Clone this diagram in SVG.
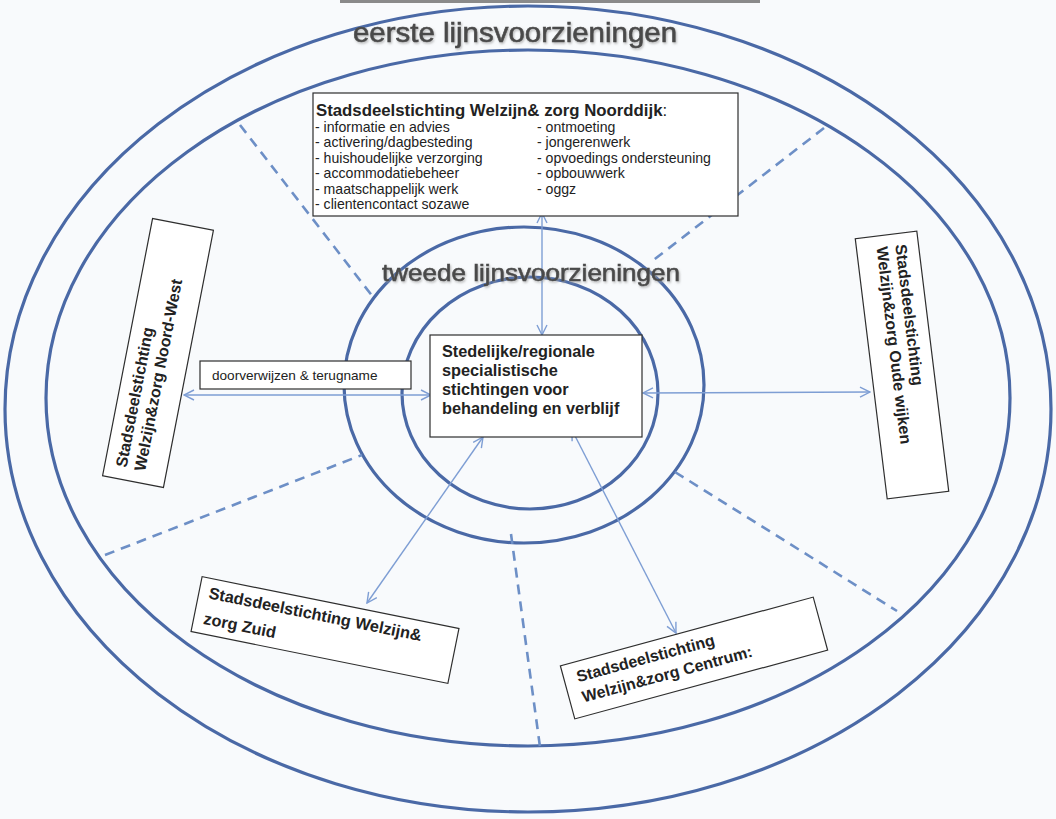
<svg xmlns="http://www.w3.org/2000/svg" width="1056" height="819" viewBox="0 0 1056 819">
  <style>
    .ring { fill: none; stroke: #4a69a6; stroke-width: 3.2; }
    .divider { fill: none; stroke: #6d8fc6; stroke-width: 2.6; stroke-dasharray: 10 7; }
    .conn { fill: none; stroke: #7e9ed4; stroke-width: 1.4; marker-start: url(#arr); marker-end: url(#arr); }
    .box { fill: #ffffff; stroke: #2e2e2e; stroke-width: 1.2; }
    .bold { font-family: "Liberation Sans", Arial, sans-serif; font-weight: bold; fill: #222222; }
    .reg { font-family: "Liberation Sans", Arial, sans-serif; fill: #222222; }
    .big { font-family: "Liberation Sans", Arial, sans-serif; fill: #4a4a4a; stroke: #4a4a4a; stroke-width: 0.6; filter: url(#glow); }
  </style>
  <defs>
    <marker id="arr" viewBox="0 0 12 12" refX="11" refY="6" markerUnits="userSpaceOnUse" markerWidth="12" markerHeight="12" orient="auto-start-reverse">
      <path d="M1,1 L11,6 L1,11" fill="none" stroke="#7e9ed4" stroke-width="1.4"/>
    </marker>
    <filter id="glow" x="-10%" y="-30%" width="120%" height="160%">
      <feDropShadow dx="1" dy="1.5" stdDeviation="1.2" flood-color="#9a9a9a" flood-opacity="0.7"/>
    </filter>
  </defs>

  <rect x="0" y="0" width="1056" height="819" fill="#f8fafc"/>
  <line x1="340" y1="1.5" x2="760" y2="1.5" stroke="#8a8a8a" stroke-width="3"/>

  <g id="rings">
    <ellipse class="ring" cx="528" cy="409" rx="523" ry="403"/>
    <ellipse class="ring" cx="528" cy="398" rx="482" ry="348"/>
    <ellipse class="ring" cx="524" cy="385" rx="180" ry="158"/>
    <ellipse class="ring" cx="530" cy="393" rx="128" ry="116"/>
  </g>

  <g id="dividers">
    <line class="divider" x1="240" y1="125" x2="373" y2="297"/>
    <line class="divider" x1="824" y1="128" x2="651" y2="262"/>
    <line class="divider" x1="105" y1="555" x2="362" y2="455"/>
    <line class="divider" x1="511" y1="534" x2="540" y2="747"/>
    <line class="divider" x1="675" y1="472" x2="897" y2="611"/>
  </g>

  <g id="connectors">
    <line class="conn" x1="542" y1="213" x2="542" y2="335"/>
    <line class="conn" x1="184" y1="395" x2="431" y2="395"/>
    <line class="conn" x1="643" y1="393" x2="870" y2="392"/>
    <line class="conn" x1="483" y1="437" x2="367" y2="603"/>
    <line class="conn" x1="572" y1="430" x2="676" y2="633"/>
  </g>

  <g id="label-eerste">
    <text class="big" x="353" y="42" font-size="27" textLength="324" lengthAdjust="spacingAndGlyphs">eerste lijnsvoorzieningen</text>
  </g>

  <g id="node-noorddijk">
    <rect class="box" x="313" y="93" width="425" height="123"/>
    <text class="bold" x="316" y="116" font-size="16.8">Stadsdeelstichting Welzijn&amp; zorg Noorddijk<tspan font-weight="normal">:</tspan></text>
    <g class="reg" font-size="14.1">
      <text x="315" y="132">- informatie en advies</text>
      <text x="315" y="147.4">- activering/dagbesteding</text>
      <text x="315" y="162.8">- huishoudelijke verzorging</text>
      <text x="315" y="178.2">- accommodatiebeheer</text>
      <text x="315" y="193.6">- maatschappelijk werk</text>
      <text x="315" y="209">- clientencontact sozawe</text>
      <text x="537" y="132">- ontmoeting</text>
      <text x="537" y="147.4">- jongerenwerk</text>
      <text x="537" y="162.8">- opvoedings ondersteuning</text>
      <text x="537" y="178.2">- opbouwwerk</text>
      <text x="537" y="193.6">- oggz</text>
    </g>
  </g>

  <g id="label-tweede">
    <text class="big" x="382" y="281" font-size="24" textLength="298" lengthAdjust="spacingAndGlyphs">tweede lijnsvoorzieningen</text>
  </g>

  <g id="label-doorverwijzen">
    <rect class="box" x="200" y="361" width="211" height="28"/>
    <text class="reg" x="212" y="380" font-size="13.6">doorverwijzen &amp; terugname</text>
  </g>

  <g id="node-centraal">
    <rect class="box" x="430" y="335" width="212" height="102"/>
    <g class="bold" font-size="16.3">
      <text x="442" y="357">Stedelijke/regionale</text>
      <text x="442" y="376">specialistische</text>
      <text x="442" y="395">stichtingen voor</text>
      <text x="442" y="414">behandeling en verblijf</text>
    </g>
  </g>

  <g id="node-noordwest" transform="translate(158 353) rotate(-79)">
    <rect class="box" x="-131" y="-31" width="262" height="62"/>
    <g class="bold" font-size="16">
      <text x="-119" y="-9">Stadsdeelstichting</text>
      <text x="-119" y="10">Welzijn&amp;zorg Noord-West</text>
    </g>
  </g>

  <g id="node-oudewijken" transform="translate(902 365) rotate(83)">
    <rect class="box" x="-131" y="-31" width="262" height="62"/>
    <g class="bold" font-size="16">
      <text x="-120" y="-8">Stadsdeelstichting</text>
      <text x="-120" y="11">Welzijn&amp;zorg Oude wijken</text>
    </g>
  </g>

  <g id="node-zuid" transform="translate(325 630) rotate(11.4)">
    <rect class="box" x="-131" y="-28" width="262" height="56"/>
    <g class="bold" font-size="16.3">
      <text x="-121" y="-8">Stadsdeelstichting Welzijn&amp;</text>
      <text x="-121" y="18">zorg Zuid</text>
    </g>
  </g>

  <g id="node-centrum" transform="translate(694 658) rotate(-15.2)">
    <rect class="box" x="-131" y="-27.5" width="262" height="55"/>
    <g class="bold" font-size="16">
      <text x="-118" y="-7">Stadsdeelstichting</text>
      <text x="-118" y="14">Welzijn&amp;zorg Centrum:</text>
    </g>
  </g>
</svg>
